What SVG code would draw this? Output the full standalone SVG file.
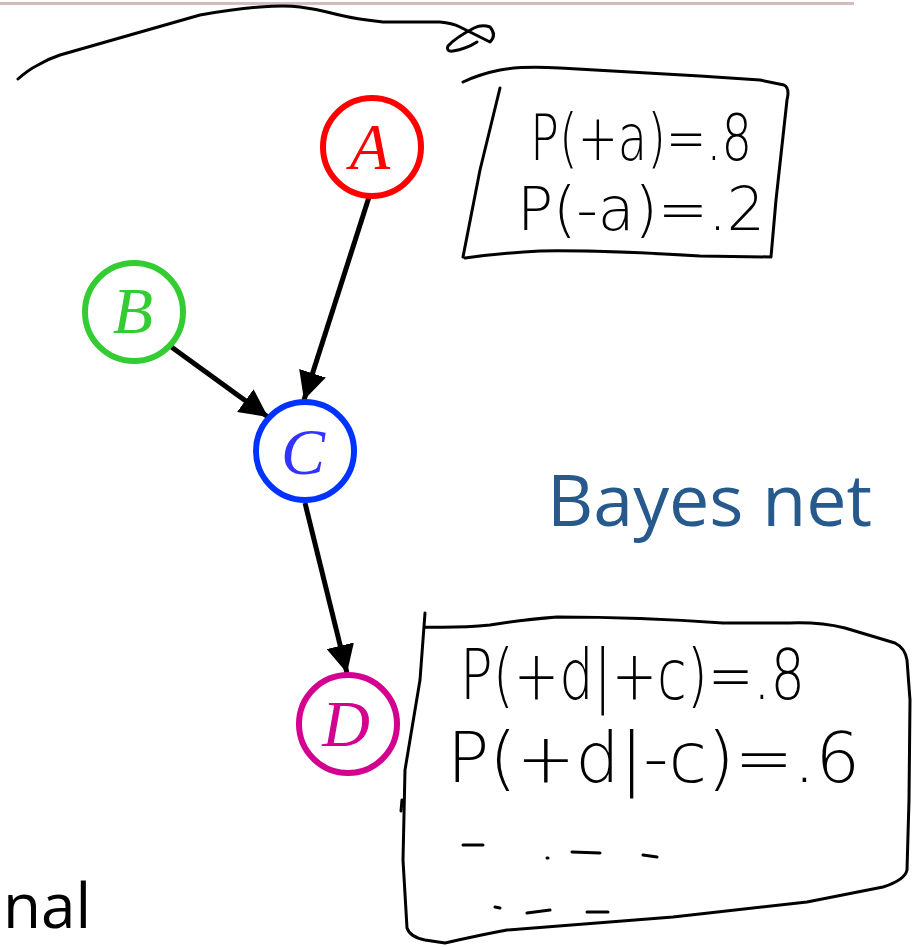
<svg xmlns="http://www.w3.org/2000/svg" width="922" height="947" viewBox="0 0 922 947">
<style>
.node circle{fill:#fff;stroke-width:6}
.lbl{font-family:"Liberation Serif",serif;font-style:italic;font-size:66px;text-anchor:middle}
.ink{fill:none;stroke:#000;stroke-width:3;stroke-linecap:round;stroke-linejoin:round}
.hw{font-family:"DejaVu Sans","Noto Sans",sans-serif;font-weight:200;fill:#000}
.edge{stroke:#000;stroke-width:5;fill:none}
</style>
<defs>
<marker id="ah" viewBox="0 0 10 10" refX="10" refY="5" markerWidth="5.6" markerHeight="5.6" orient="auto">
<path d="M0,0 L10,5 L0,10 z" fill="#000"/>
</marker>
</defs>
<rect width="922" height="947" fill="#fff"/>
<line x1="0" y1="3.5" x2="854" y2="3.5" stroke="#d4bcbe" stroke-width="3"/>
<g id="scribble">
<path class="ink" d="M18,79 Q28,70 38,65 Q48,59 60,55 L130,35 L200,15 Q235,9 260,7 Q285,5 300,7 Q315,9 327,12 Q350,18 367,20 L383,22 L440,22 Q452,23 460,27 L490,42 Q497,35 490,27 Q482,24 474,28 Q455,38 448,46 Q446,52 453,51 Q466,49 477,42"/>
</g>
<g id="connectors">
<line class="edge" x1="369" y1="197" x2="304" y2="400" marker-end="url(#ah)"/>
<line class="edge" x1="170" y1="346" x2="268" y2="417" marker-end="url(#ah)"/>
<line class="edge" x1="305" y1="503" x2="347" y2="673" marker-end="url(#ah)"/>
</g>
<g id="node-A" class="node">
<circle cx="372" cy="147" r="49" stroke="#ff0000"/>
<text class="lbl" x="370" y="169" fill="#ff0000">A</text>
</g>
<g id="node-B" class="node">
<circle cx="134" cy="312" r="49" stroke="#33cc33"/>
<text class="lbl" x="133" y="333" fill="#33cc33">B</text>
</g>
<g id="node-C" class="node">
<circle cx="305" cy="451" r="49" stroke="#0033ff"/>
<text class="lbl" x="303" y="474" fill="#3333ff">C</text>
</g>
<g id="node-D" class="node">
<circle cx="348" cy="724" r="49" stroke="#d4008f"/>
<text class="lbl" x="346" y="746" fill="#d4008f">D</text>
</g>
<g id="cpt-A">
<path class="ink" d="M463,82 Q480,74 500,70 Q520,66 560,68 L700,76 L760,80 L784,85 Q790,88 787,100 L776,200 L771,257 L700,256 Q600,250 540,251 Q500,253 465,258"/>
<path class="ink" d="M500,88 L480,170 L463,257"/>
<text class="hw" x="530" y="160" font-size="64" textLength="222" lengthAdjust="spacingAndGlyphs">P(+a)=.8</text>
<text class="hw" x="517" y="230" font-size="60" textLength="248" lengthAdjust="spacing">P(-a)=.2</text>
</g>
<g id="cpt-D">
<path class="ink" d="M425,613 L420,680 L405,770 L403,860 L407,928 Q410,937 425,940 L445,943 Q480,935 507,930 L673,917 L807,902 L883,887 Q905,880 907,870 L909,800 L910,700 L907,660 Q905,648 895,643 L845,628 Q820,622 790,623 L723,623 Q640,617 557,617 Q520,620 490,625 Q460,628 425,627"/>
<path class="ink" d="M402,800 L401,811"/>
<text class="hw" x="460" y="699" font-size="70" textLength="345" lengthAdjust="spacingAndGlyphs">P(+d|+c)=.8</text>
<text class="hw" x="447" y="782" font-size="70" textLength="413" lengthAdjust="spacingAndGlyphs">P(+d|-c)=.6</text>
<path class="ink" d="M463,845 L483,845 M547,858 L548,858 M572,852 L600,853 M643,855 L657,857 M495,907 L500,908 M527,913 L550,910 M587,912 L608,912"/>
</g>
<text x="547" y="526" font-family="'Open Sans','Noto Sans',sans-serif" font-size="72" fill="#265a8c" textLength="325" lengthAdjust="spacingAndGlyphs">Bayes net</text>
<text x="3" y="928" font-family="'Open Sans','Noto Sans',sans-serif" font-size="62" fill="#000">nal</text>
</svg>
